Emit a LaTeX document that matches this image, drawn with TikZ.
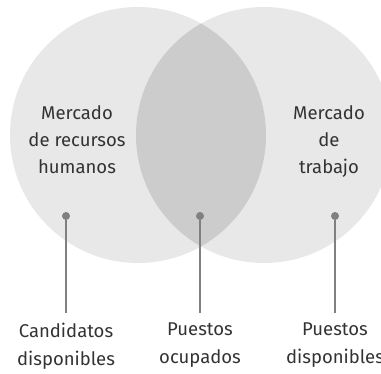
\documentclass[tikz,border=0pt]{standalone}
\usepackage{fontspec}
\setmainfont{Fira Sans}
\usetikzlibrary{positioning}
\definecolor{venn}{HTML}{E8E8E8}
\definecolor{lens}{HTML}{CCCCCC}
\definecolor{pincol}{HTML}{808080}
\definecolor{ink}{HTML}{333333}

\begin{document}
\begin{tikzpicture}[x=1pt,y=1pt,
    lbl/.style={font=\fontsize{18.5}{27}\selectfont,text=ink,align=center,inner sep=0pt},
    pindot/.style={circle,fill=pincol,inner sep=0pt,minimum size=8pt}]
    \useasboundingbox (0,0) rectangle (381,373);
    % two markets and their overlap
    \fill[venn] (138,238) circle (128);
    \fill[venn] (264,238) circle (128);
    \begin{scope}
        \clip (138,238) circle (128);
        \fill[lens] (264,238) circle (128);
    \end{scope}
    \node[lbl,anchor=north] (rrhh) at (77,268) {Mercado\\de recursos\\humanos};
    \node[lbl,anchor=north] (trab) at (329,268) {Mercado\\de\\trabajo};
    % pins
    \node[lbl,anchor=north,font=\fontsize{18.5}{28}\selectfont] (cand) at (66,50) {Candidatos\\disponibles};
    \node[lbl,anchor=north,font=\fontsize{18.5}{28}\selectfont] (ocup) at (200,50) {Puestos\\ocupados};
    \node[lbl,anchor=north,font=\fontsize{18.5}{28}\selectfont] (disp) at (335,50) {Puestos\\disponibles};
    \foreach \n/\x in {cand/66, ocup/200, disp/335} {
        \node[pindot] (dot\n) at (\x,157) {};
        \draw[pincol,line width=2pt,shorten >=10pt] (dot\n) -- (\n.north);
    }
\end{tikzpicture}
\end{document}
